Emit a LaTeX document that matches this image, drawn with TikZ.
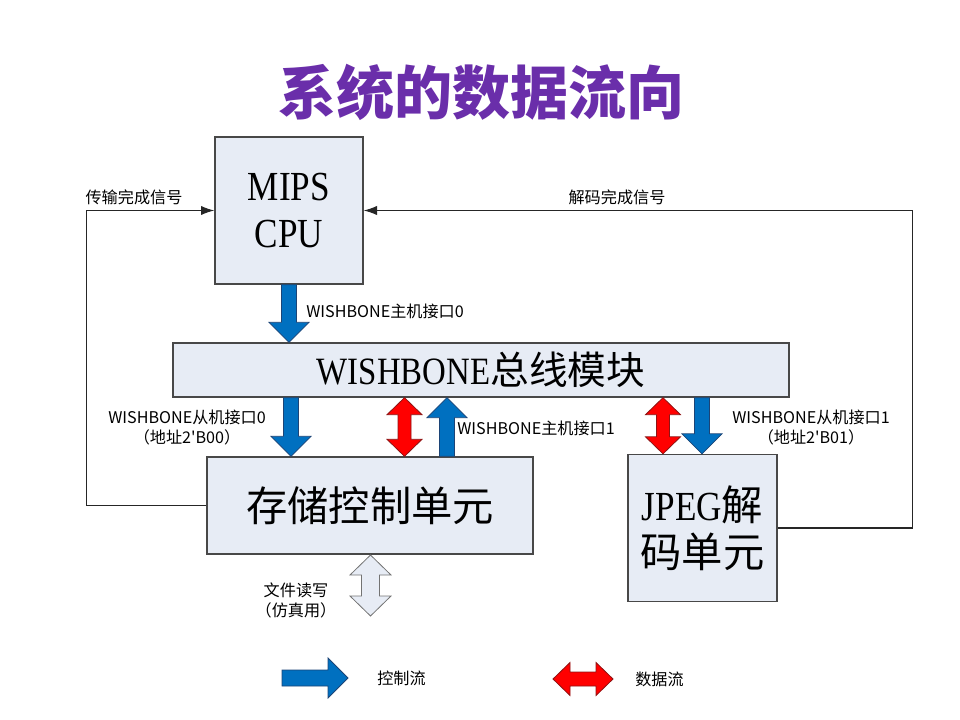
\documentclass[tikz,border=0pt]{standalone}
\usepackage{fontspec}
\setmainfont{Liberation Serif}
\newfontfamily\cjk[Ligatures=TeXOff]{Noto Sans CJK SC}
\newfontfamily\boxlatin[FakeStretch=0.85]{Liberation Serif}
\usepackage{tikz}
\usetikzlibrary{arrows.meta,calc}

\definecolor{boxfill}{RGB}{231,236,245}
\definecolor{boxedge}{RGB}{72,72,72}
\definecolor{ctrlblue}{RGB}{0,112,192}
\definecolor{ctrledge}{RGB}{28,68,118}
\definecolor{datared}{RGB}{255,0,0}
\definecolor{dataedge}{RGB}{140,20,20}
\definecolor{titlepurple}{RGB}{106,46,170}

\newcommand{\pxd}{0.75pt}

\tikzset{
	fat shaft/.store in=\fatshaft,
	fat head/.store in=\fathead,
	fat len/.store in=\fatlen,
	fat shaft=7.5, fat head=20, fat len=20,
	fatone/.style={to path={
		($(\tikztotarget)!\fatlen*\pxd!(\tikztostart)$) coordinate (fatb)
		($(\tikztostart)!\fatshaft*\pxd!90:(\tikztotarget)$)
		-- ($(fatb)!\fatshaft*\pxd!90:(\tikztotarget)$)
		-- ($(fatb)!\fathead*\pxd!90:(\tikztotarget)$)
		-- (\tikztotarget)
		-- ($(fatb)!\fathead*\pxd!-90:(\tikztotarget)$)
		-- ($(fatb)!\fatshaft*\pxd!-90:(\tikztotarget)$)
		-- ($(\tikztostart)!\fatshaft*\pxd!-90:(\tikztotarget)$)
		-- cycle}},
	fattwo/.style={to path={
		($(\tikztostart)!\fatlen*\pxd!(\tikztotarget)$) coordinate (fata)
		($(\tikztotarget)!\fatlen*\pxd!(\tikztostart)$) coordinate (fatb)
		(\tikztostart)
		-- ($(fata)!\fathead*\pxd!90:(\tikztotarget)$)
		-- ($(fata)!\fatshaft*\pxd!90:(\tikztotarget)$)
		-- ($(fatb)!\fatshaft*\pxd!90:(\tikztotarget)$)
		-- ($(fatb)!\fathead*\pxd!90:(\tikztotarget)$)
		-- (\tikztotarget)
		-- ($(fatb)!\fathead*\pxd!-90:(\tikztotarget)$)
		-- ($(fatb)!\fatshaft*\pxd!-90:(\tikztotarget)$)
		-- ($(fata)!\fatshaft*\pxd!-90:(\tikztotarget)$)
		-- ($(fata)!\fathead*\pxd!-90:(\tikztotarget)$)
		-- cycle}}
}

\begin{document}
\begin{tikzpicture}[x=0.75pt,y=-0.75pt,line join=miter,
		box/.style={draw=boxedge,fill=boxfill,line width=1pt,inner sep=0pt,align=center},
		bigtxt/.style={font=\boxlatin\fontsize{31}{35}\selectfont},
		sig/.style={draw=black!85,line width=0.9pt,-{Latex[length=10pt,width=7pt]}},
		lbl/.style={font=\cjk\fontsize{12.1}{15}\selectfont,inner sep=0pt,align=center},
		ctrlflow/.style={fill=ctrlblue,draw=ctrledge,line width=0.6pt,fatone},
		dataflow/.style={fill=datared,draw=dataedge,line width=0.6pt,fattwo,fat shaft=6.5,fat head=17.5,fat len=17},
		rwflow/.style={fill=boxfill,draw=black!55,line width=0.6pt,fattwo,fat shaft=9,fat head=20.5,fat len=20}]
		\useasboundingbox (0,0) rectangle (960,720);
%		\draw[help lines,step=20] (0,0) grid (960,720);
		\node[text=titlepurple,inner sep=0pt,font=\cjk\bfseries\fontsize{43.5}{50}\selectfont] (title) at (481,92) {系统的数据流向};

		\node[box,bigtxt,minimum width=111pt,minimum height=110.25pt] (cpu) at (289,210.5) {MIPS\\CPU};
		\node[box,bigtxt,font=\boxlatin\fontsize{29}{35}\selectfont,minimum width=462pt,minimum height=40.5pt] (bus) at (481,370) {WISHBONE{\cjk 总线模块}};
		\node[box,bigtxt,minimum width=244.5pt,minimum height=72.75pt] (store) at (370,505.5) {{\cjk 存储控制单元}};
		\node[box,bigtxt,minimum width=111.75pt,minimum height=110.25pt] (jpeg) at (702.5,528) {JPEG{\cjk 解}\\{\cjk 码单元}};

		\path (cpu.south) coordinate (mst0t);
		\path (cpu.south |- bus.north) coordinate (mst0b);
		\path (bus.south -| 291,0) coordinate (slv0t);
		\path (store.north -| 291,0) coordinate (slv0b);
		\path (bus.south -| 404.5,0) coordinate (dat0t);
		\path (store.north -| 404.5,0) coordinate (dat0b);
		\path (store.north -| 447,0) coordinate (mst1b);
		\path (bus.south -| 447,0) coordinate (mst1t);
		\path (bus.south -| 663,0) coordinate (dat1t);
		\path (jpeg.north -| 663,0) coordinate (dat1b);
		\path (bus.south -| 702,0) coordinate (slv1t);
		\path (jpeg.north -| 702,0) coordinate (slv1b);
		\path (370.5,555) coordinate (filet);
		\path (370.5,616) coordinate (fileb);
		\path (282,678) coordinate (keyctrla);
		\path (348,678) coordinate (keyctrlb);
		\path (553,679) coordinate (keydataa);
		\path (613,679) coordinate (keydatab);

		% feedback signals
		\draw[sig] (store.west) -- ++(-120,0) |- (cpu.west);
		\draw[sig] (jpeg.east) -- ++(135,0) |- (cpu.east);
		\node[lbl] (xferdone) at (134,197) {传输完成信号};
		\node[lbl] (decdone) at (617,197) {解码完成信号};

		% wishbone ports
		\draw[ctrlflow] (mst0t) to (mst0b);
		\draw[ctrlflow] (slv0t) to (slv0b);
		\draw[dataflow] (dat0t) to (dat0b);
		\draw[ctrlflow] (mst1b) to (mst1t);
		\draw[dataflow] (dat1t) to (dat1b);
		\draw[ctrlflow] (slv1t) to (slv1b);
		\draw[rwflow] (filet) to (fileb);
		\node[lbl,anchor=west] (mst0lbl) at (306,311) {WISHBONE主机接口0};
		\node[lbl] (slv0lbl) at (187,427) {WISHBONE从机接口0\\（地址2'B00）};
		\node[lbl,anchor=west] (mst1lbl) at (457,428) {WISHBONE主机接口1};
		\node[lbl] (slv1lbl) at (811,427) {WISHBONE从机接口1\\（地址2'B01）};
		\node[lbl] (filelbl) at (296,600) {文件读写\\（仿真用）};

		% legend
		\draw[ctrlflow,fat shaft=8] (keyctrla) to (keyctrlb);
		\node[lbl,anchor=west] (keyctrl) at (377,678) {控制流};
		\draw[dataflow,fat shaft=7,fat head=16.5] (keydataa) to (keydatab);
		\node[lbl,anchor=west] (keydata) at (635,679) {数据流};
	\end{tikzpicture}
\end{document}
